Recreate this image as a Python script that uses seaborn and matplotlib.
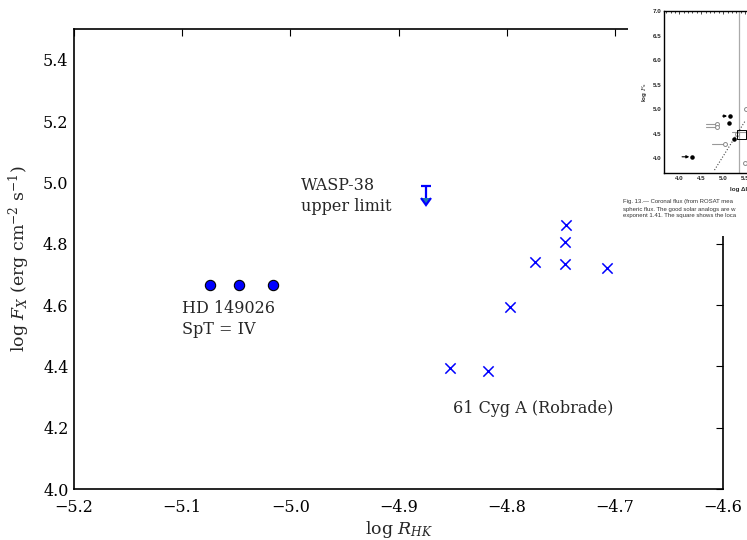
import matplotlib
matplotlib.use("Agg")
import matplotlib.pyplot as plt
import seaborn as sns
import pandas as pd
from matplotlib.patches import Rectangle

# ---------------- data ----------------
hd_rhk = [-5.074, -5.0475, -5.0164]
hd_fx = [4.666, 4.666, 4.666]

cyg_rhk = [-4.7456, -4.7462, -4.7742, -4.7465, -4.7071, -4.797, -4.8525, -4.8174]
cyg_fx = [4.861, 4.805, 4.740, 4.734, 4.722, 4.595, 4.394, 4.385]

wasp_rhk = [-4.875]
wasp_fx = [4.989]
wasp_err = [0.04]

xticks = [-5.2, -5.1, -5.0, -4.9, -4.8, -4.7, -4.6]
yticks = [4.0, 4.2, 4.4, 4.6, 4.8, 5.0, 5.2, 5.4]

# inset (embedded paper figure) data
ins_black_x = [4.29, 5.15, 5.12, 5.24]
ins_black_y = [4.03, 4.86, 4.71, 4.40]
ins_arrow_x0 = [4.00, 4.92, 5.27]
ins_arrow_x1 = [4.29, 5.15, 5.60]
ins_arrow_y = [4.03, 4.86, 4.76]
ins_gray_x = [4.85, 4.85, 5.31, 5.04, 5.52, 5.49]
ins_gray_y = [4.70, 4.64, 4.50, 4.29, 5.00, 3.90]
ins_grayline_x0 = [4.60, 4.60, 5.20, 4.74]
ins_grayline_x1 = [4.85, 4.85, 5.55, 5.04]
ins_grayline_y = [4.70, 4.64, 4.54, 4.29]
ins_fit_x = [4.80, 5.49]
ins_fit_y = [3.76, 4.75]
ins_square = (5.42, 4.49)
ins_vline = 5.364
ins_yticks = [4.0, 4.5, 5.0, 5.5, 6.0, 6.5, 7.0]
ins_xticks = [4.0, 4.5, 5.0, 5.5]

# ---------------- style ----------------
sns.set_style("white")
plt.rcParams["font.family"] = ["DejaVu Serif"]
plt.rcParams["mathtext.fontset"] = "dejavuserif"

fig = plt.figure(figsize=(7.47, 5.40), dpi=100)
ax = fig.add_axes([74 / 747, 1 - 489 / 540, (723 - 74) / 747, (489 - 29.3) / 540])

hd_df = pd.DataFrame({"rhk": hd_rhk, "fx": hd_fx})
cyg_df = pd.DataFrame({"rhk": cyg_rhk, "fx": cyg_fx})

sns.scatterplot(data=hd_df, x="rhk", y="fx", ax=ax, marker="o", s=55,
                color="blue", edgecolor="black", linewidth=0.8, zorder=3)
sns.scatterplot(data=cyg_df, x="rhk", y="fx", ax=ax, marker="x", s=55,
                color="blue", linewidth=1.1, zorder=3)
ax.errorbar(wasp_rhk, wasp_fx, yerr=wasp_err, uplims=True, fmt="none",
            ecolor="blue", elinewidth=1.6, capsize=3.5, capthick=1.6,
            markersize=7)

ax.set_xlim(-5.2, -4.6)
ax.set_ylim(4.0, 5.5)
ax.set_xticks(xticks)
ax.set_yticks(yticks)
ax.set_xticklabels([f"\u2212{abs(v):.1f}" for v in xticks])
ax.set_yticklabels([f"{v:.1f}" for v in yticks])
ax.tick_params(direction="in", length=5, width=0.8, labelsize=11.5,
               top=True, right=True, colors="black", pad=4)
ax.tick_params(axis="x", pad=7)
for sp in ax.spines.values():
    sp.set_color("black")
    sp.set_linewidth(1.2)

ax.set_xlabel(r"log $R_{HK}$", fontsize=12.5, labelpad=2)
ax.set_ylabel(r"log $F_X$ (erg cm$^{-2}$ s$^{-1}$)", fontsize=12.5, labelpad=8)

ax.text(-4.990, 5.018, "WASP-38\nupper limit", fontsize=11.5, va="top",
        ha="left", linespacing=1.3)
ax.text(-5.100, 4.618, "HD 149026\nSpT = IV", fontsize=11.5, va="top",
        ha="left", linespacing=1.3)
ax.text(-4.850, 4.262, "61 Cyg A (Robrade)", fontsize=11.5, va="center",
        ha="left")

# ---------------- inset (pasted figure) ----------------
fig.patches.append(Rectangle((628 / 747, 1 - 236 / 540), 1.0, 236 / 540,
                             transform=fig.transFigure, facecolor="white",
                             edgecolor="none", zorder=5))
iax = fig.add_axes([664.3 / 747, 1 - 173 / 540, (747 - 664.3) / 747,
                    (173 - 11) / 540], zorder=6)
iax.set_facecolor("white")
iax.set_xlim(3.659, 5.539)
iax.set_ylim(3.7, 7.0)
iax.axvline(ins_vline, color="#aaaaaa", lw=0.9)
iax.plot(ins_fit_x, ins_fit_y, ls=":", color="#444444", lw=0.8)
for x0, x1, y in zip(ins_grayline_x0, ins_grayline_x1, ins_grayline_y):
    iax.plot([x0, x1], [y, y], color="#999999", lw=0.8)
for x0, x1, y in zip(ins_arrow_x0, ins_arrow_x1, ins_arrow_y):
    iax.annotate("", xy=(x1, y), xytext=(x0, y),
                 arrowprops=dict(arrowstyle="-|>", color="black", lw=0.8,
                                 mutation_scale=4))
iax.scatter(ins_gray_x, ins_gray_y, s=8, facecolor="white",
            edgecolor="#888888", linewidth=0.7, zorder=3)
iax.scatter(ins_black_x, ins_black_y, s=5, color="black", zorder=3)
iax.scatter([ins_square[0]], [ins_square[1]], s=40, marker="s",
            facecolor="none", edgecolor="black", linewidth=0.7, zorder=3)
iax.set_yticks(ins_yticks)
iax.set_xticks(ins_xticks)
iax.minorticks_on()
iax.tick_params(which="both", direction="in", top=True, right=False,
                labelsize=4.5, length=2.5, width=0.6, pad=2)
iax.tick_params(which="minor", length=1.3)
for lab in iax.get_xticklabels() + iax.get_yticklabels():
    lab.set_family("Liberation Sans")
    lab.set_fontweight("bold")
for name, sp in iax.spines.items():
    sp.set_linewidth(1.0)
    sp.set_color("black")
iax.spines["right"].set_visible(False)
iax.set_ylabel("log $F_{\\rm x}$", fontsize=4.5, family="Liberation Sans",
               fontweight="bold", labelpad=3)
fig.text(730 / 747, 1 - 190 / 540, "log \u0394I", fontsize=4.5,
         family="Liberation Sans", fontweight="bold", ha="left", va="center",
         zorder=7)
caption = ["Fig. 13.\u2014 Coronal flux (from ROSAT mea",
           "spheric flux. The good solar analogs are w",
           "exponent 1.41. The square shows the loca"]
for i, line in enumerate(caption):
    fig.text(623 / 747, 1 - (202 + 7 * i) / 540, line, fontsize=4.3,
             family="Liberation Sans", color="#333333", ha="left",
             va="center", zorder=7)

fig.savefig("out.png", dpi=100)
